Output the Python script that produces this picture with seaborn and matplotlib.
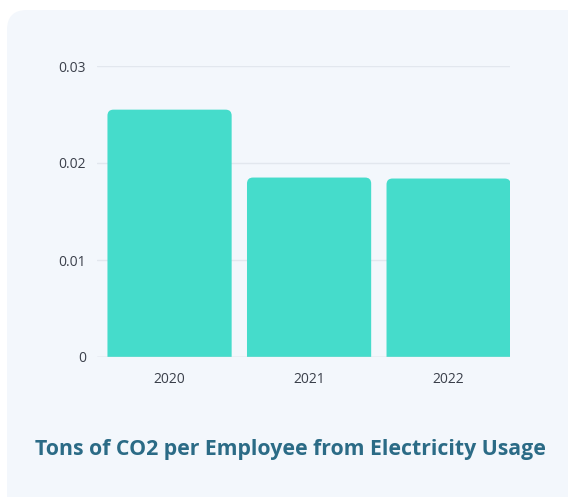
import matplotlib
matplotlib.use("Agg")
import matplotlib.pyplot as plt
from matplotlib.patches import FancyBboxPatch
import seaborn as sns
import pandas as pd

years = ["2020", "2021", "2022"]
tons_per_employee = [0.0255, 0.0185, 0.0184]
y_ticks = [0, 0.01, 0.02, 0.03]
y_tick_labels = ["0", "0.01", "0.02", "0.03"]
title = "Tons of CO2 per Employee from Electricity Usage"

card_color = "#F3F7FC"
bar_color = "#45DCCB"
grid_color = "#E2E7EE"
title_color = "#2B6B86"
tick_color = "#3A3F4A"

sns.set_theme(style="white")
plt.rcParams["font.family"] = ["Open Sans", "DejaVu Sans"]

W, H = 568, 497
fig = plt.figure(figsize=(W / 100, H / 100), dpi=100)
fig.patch.set_facecolor("white")

# rounded card behind the chart
card = FancyBboxPatch((7 / W, -0.05), 1.2, (H - 10) / H + 0.05,
                      boxstyle="round,pad=0,rounding_size=0.035",
                      transform=fig.transFigure, facecolor=card_color,
                      edgecolor="none", mutation_aspect=W / H, zorder=-5)
fig.patches.append(card)

ax_left, ax_right, ax_top, ax_bottom = 97, 510, 66, 357
ax = fig.add_axes([ax_left / W, 1 - ax_bottom / H,
                   (ax_right - ax_left) / W, (ax_bottom - ax_top) / H])
ax.set_facecolor("none")
ax.set_zorder(2)

xlim = (-0.52, 2.44)
ylim = (0, 0.03)

df = pd.DataFrame({"year": years, "tons": tons_per_employee})
sns.barplot(data=df, x="year", y="tons", color=bar_color, width=0.89,
            saturation=1, ax=ax, zorder=3)

# data units per pixel, used to keep corner radii circular on screen
x_per_px = (xlim[1] - xlim[0]) / (ax_right - ax_left)
y_per_px = (ylim[1] - ylim[0]) / (ax_bottom - ax_top)
radius_px = 6

# round the top corners of each bar
for p in list(ax.patches):
    x, y = p.get_x(), p.get_y()
    w, h = p.get_width(), p.get_height()
    p.remove()
    r_x = radius_px * x_per_px
    r_y = radius_px * y_per_px
    rounded = FancyBboxPatch((x, y - r_y), w, h + r_y,
                             boxstyle=f"round,pad=0,rounding_size={r_x}",
                             mutation_aspect=y_per_px / x_per_px,
                             facecolor=bar_color, edgecolor="none", zorder=3)
    ax.add_patch(rounded)

ax.set_ylim(*ylim)
ax.set_xlim(*xlim)
ax.set_yticks(y_ticks)
ax.set_yticklabels(y_tick_labels)
ax.yaxis.grid(True, color=grid_color, linewidth=1.0, zorder=0)
ax.set_axisbelow(True)
for s in ax.spines.values():
    s.set_visible(False)
ax.axhline(0, color="#D8DDE4", linewidth=1.0, zorder=4)
ax.tick_params(axis="y", length=0, pad=8, labelsize=10, labelcolor=tick_color)
ax.tick_params(axis="x", length=0, pad=11, labelsize=10, labelcolor=tick_color)
ax.set_xlabel("")
ax.set_ylabel("")

fig.text(290 / W, 1 - 449 / H, title, ha="center", va="center",
         fontsize=15.3, fontweight="bold", color=title_color)

fig.savefig("out.png", dpi=100, facecolor="white")
